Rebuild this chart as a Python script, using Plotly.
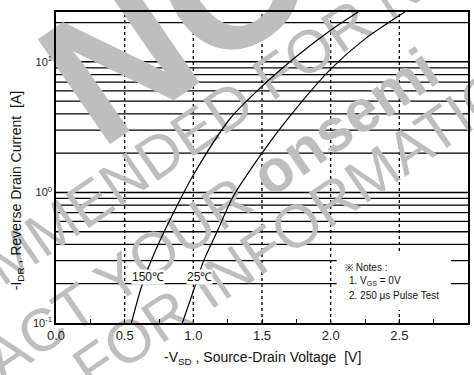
import math
import plotly.graph_objects as go

# Reverse-drain characteristic: -I_DR vs -V_SD for two junction temperatures
v_150 = [0.549, 0.633, 0.73, 0.85, 1.0, 1.27, 1.5, 1.75, 2.0, 2.2]
i_150 = [0.1, 0.205, 0.37, 0.68, 1.36, 3.7, 6.5, 11.0, 17.5, 24.1]

v_25 = [0.92, 1.0, 1.07, 1.18, 1.29, 1.5, 1.7, 2.0, 2.25, 2.54]
i_25 = [0.1, 0.175, 0.29, 0.52, 0.93, 2.0, 3.8, 8.8, 15.0, 24.1]

x_ticks = [0.0, 0.5, 1.0, 1.5, 2.0, 2.5, 3.0]
x_tick_text = ["0.0", "0.5", "1.0", "1.5", "2.0", "2.5", "3.0"]
y_ticks = [0.1, 1, 10]
y_tick_text = ["10<sup>-1</sup>", "10<sup>0</sup>", "10<sup>1</sup>"]

X_RANGE = [0.0, 3.0]
Y_RANGE = [-1.0, 1.382]          # log10 of the current range

W, H = 474, 375
ML, MR, MT, MB = 56, 4, 12, 52
PW, PH = W - ML - MR, H - MT - MB

FONT = "Arial, Liberation Sans, sans-serif"


def px(x, y):
    """Pixel position on the page -> paper coordinates."""
    return (x - ML) / PW, (H - MB - y) / PH


def xfrac(v):
    return (v - X_RANGE[0]) / (X_RANGE[1] - X_RANGE[0])


def yfrac(v):
    return (math.log10(v) - Y_RANGE[0]) / (Y_RANGE[1] - Y_RANGE[0])


fig = go.Figure()
for v, i in ((v_150, i_150), (v_25, i_25)):
    fig.add_trace(go.Scatter(
        x=v, y=i, mode="lines",
        line=dict(color="black", width=1.2, shape="spline", smoothing=0.8),
        showlegend=False, hoverinfo="skip"))

fig.update_xaxes(
    range=X_RANGE, tickvals=x_ticks, ticktext=x_tick_text, showgrid=False,
    showline=True, linecolor="black", linewidth=1.5, mirror=True,
    ticks="inside", ticklen=4, tickcolor="black",
    minor=dict(dtick=0.25, ticks="inside", ticklen=4, tickcolor="black", showgrid=False),
    tickfont=dict(family=FONT, size=13, color="#222"),
    zeroline=False,
)
fig.update_yaxes(
    type="log", range=Y_RANGE, tickvals=y_ticks, ticktext=y_tick_text, showgrid=False,
    showline=True, linecolor="black", linewidth=1.5, mirror=True,
    ticks="", tickfont=dict(family=FONT, size=11, color="#222"),
    zeroline=False,
)

shapes = []
# grid: solid decade lines, dotted voltage lines (kept in the lowest layer
# so the background stamp text sits on top of them)
top = 10 ** Y_RANGE[1]
for d in (0.1, 1, 10):
    for m in range(1, 10):
        v = m * d
        if v <= 0.1 or v >= top:
            continue
        y = yfrac(v)
        shapes.append(dict(type="line", xref="paper", yref="paper", x0=0, x1=1, y0=y, y1=y,
                           line=dict(color="black", width=1.5 if m == 1 else 1.3), layer="below"))
for v in x_ticks[1:-1]:
    x = xfrac(v)
    shapes.append(dict(type="line", xref="paper", yref="paper", x0=x, x1=x, y0=0, y1=1,
                       line=dict(color="black", width=1.3, dash="dot"), layer="below"))

# background stamp text
stamp = [
    ("<b>NOT</b>", 215, -27, 185),
    ("RECOMMENDED FOR NEW DESIGN", 270, 72, 60),
    ("CONTACT YOUR <b>onsemi</b>", 140, 256, 60),
    ("FOR INFORMATION", 308, 212, 60),
]
for text, sx, sy, size in stamp:
    cx, cy = px(sx, sy)
    shapes.append(dict(
        type="rect", xref="paper", yref="paper",
        x0=cx - 0.001, x1=cx + 0.001, y0=cy - 0.001, y1=cy + 0.001,
        line=dict(width=0), fillcolor="rgba(0,0,0,0)", layer="below",
        label=dict(text=text, textangle=-34.5, textposition="middle center",
                   font=dict(family=FONT, size=size, color="#bebebe"))))

annotations = []


def note(text, x, y, size, xanchor="center", **kw):
    ax, ay = px(x, y)
    annotations.append(dict(
        text=text, x=ax, y=ay, xref="paper", yref="paper", showarrow=False,
        xanchor=xanchor, yanchor="middle",
        font=dict(family=FONT, size=size, color="#111"), **kw))


# axis titles
note("-V<sub>SD</sub> , Source-Drain Voltage  [V]", 263, 358, 14)
note("-I<sub>DR</sub> , Reverse Drain Current  [A]", 17, 191, 14, textangle=-90)

# curve labels
note("150\u2103", 148, 277, 12, bgcolor="white", borderpad=0)
note("25\u2103", 200, 277, 12, bgcolor="white", borderpad=0)

# notes box
x0, y0 = px(338, 310)
x1, y1 = px(453, 253)
shapes.append(dict(type="rect", xref="paper", yref="paper", x0=x0, y0=y0, x1=x1, y1=y1,
                   fillcolor="white", line=dict(width=0), layer="above"))
note("\u203b Notes :", 344, 267, 10, xanchor="left")
note("1. V<sub>GS</sub> = 0V", 348, 281, 10, xanchor="left")
note("2. 250 \u03bcs Pulse Test", 348, 295, 10, xanchor="left")

fig.update_layout(
    width=W, height=H, margin=dict(l=ML, r=MR, t=MT, b=MB),
    paper_bgcolor="white", plot_bgcolor="white",
    annotations=annotations, shapes=shapes,
)

fig.write_html("out.html")
